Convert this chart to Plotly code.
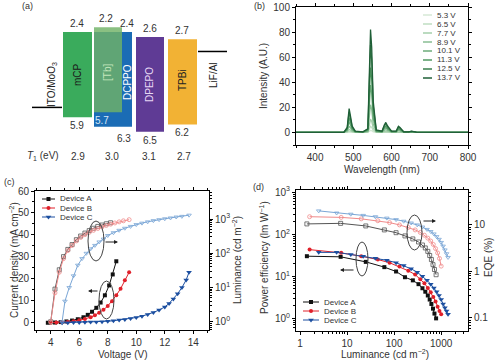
import plotly.graph_objects as go

W, H = 499, 361
def fx(p): return p / W
def fy(p): return 1 - p / H

FONT = "Arial, Liberation Sans, sans-serif"
TXT = "#333333"

# ---------------- (a) energy levels ----------------
materials = ["mCP", "DCPPO", "[Tb]", "DPEPO", "TPBi"]
lumo = [2.4, 2.4, 2.2, 2.6, 2.7]
homo = [5.9, 6.3, 5.7, 6.5, 6.2]
triplet = ["2.9", "3.0", "3.1", "2.7"]
electrodes = ["ITO/MoO<sub>3</sub>", "LiF/Al"]
electrode_level = [5.5, 3.2]

# ---------------- (b) EL spectra ----------------
voltages = ["5.3 V", "6.5 V", "7.7 V", "8.9 V", "10.1 V", "11.3 V", "12.5 V", "13.7 V"]
wavelength = [350, 475, 484, 489, 492, 497, 505, 525, 538, 542, 545, 548, 552, 560,
              575, 581, 585, 590, 600, 612, 618, 622, 632, 645, 652, 665, 800]
I_53 = [0, 0, 0.1, 0.4, 0.3, 0.1, 0, 0, 0.1, 0.9, 1.6, 1.4, 0.5, 0, 0, 0.1, 0.2, 0.1, 0, 0, 0.1, 0.1, 0, 0, 0, 0, 0]
I_65 = [0, 0, 0.2, 1.1, 0.8, 0.3, 0.1, 0, 0.2, 2.7, 4.9, 4.1, 1.5, 0.1, 0.1, 0.4, 0.5, 0.3, 0.1, 0.1, 0.3, 0.2, 0, 0, 0.1, 0, 0]
I_77 = [0, 0, 0.5, 2.5, 1.8, 0.7, 0.1, 0.1, 0.4, 5.9, 10.7, 8.8, 3.3, 0.3, 0.1, 0.8, 1.0, 0.7, 0.1, 0.1, 0.7, 0.5, 0.1, 0.1, 0.1, 0, 0]
I_89 = [0, 0, 1.1, 5.1, 3.8, 1.4, 0.3, 0.1, 0.8, 12.2, 22.1, 18.4, 6.8, 0.5, 0.3, 1.6, 2.2, 1.4, 0.3, 0.3, 1.4, 1.1, 0.1, 0.1, 0.3, 0.1, 0]
I_101 = [0, 0, 1.8, 8.7, 6.4, 2.3, 0.5, 0.2, 1.4, 20.7, 37.7, 31.3, 11.5, 0.9, 0.5, 2.8, 3.7, 2.3, 0.5, 0.5, 2.3, 1.8, 0.2, 0.2, 0.5, 0.1, 0]
I_113 = [0, 0, 2.5, 12.0, 8.8, 3.2, 0.6, 0.3, 1.9, 28.4, 51.7, 42.8, 15.8, 1.3, 0.6, 3.8, 5.0, 3.2, 0.6, 0.6, 3.2, 2.5, 0.3, 0.3, 0.6, 0.1, 0]
I_125 = [0, 0, 3.4, 16.2, 11.9, 4.3, 0.9, 0.4, 2.6, 38.3, 69.7, 57.8, 21.3, 1.7, 0.9, 5.1, 6.8, 4.3, 0.9, 0.9, 4.3, 3.4, 0.4, 0.4, 0.9, 0.2, 0]
I_137 = [0, 0, 4.0, 19.0, 14.0, 5.0, 1.0, 0.5, 3.0, 45.0, 82.0, 68.0, 25.0, 2.0, 1.0, 6.0, 8.0, 5.0, 1.0, 1.0, 5.0, 4.0, 0.5, 0.5, 1.0, 0.2, 0]
spectra = [I_53, I_65, I_77, I_89, I_101, I_113, I_125, I_137]

# ---------------- (c) J-V-L ----------------
devices = ["Device A", "Device B", "Device C"]
V_A = [3.8, 4.3, 4.7, 5.1, 5.5, 5.9, 6.3, 6.6, 6.9, 7.2, 7.5, 7.8, 8.1, 8.35, 8.6]
J_A = [0, 0.1, 0.3, 0.6, 1.0, 1.6, 2.5, 3.6, 5.0, 6.8, 9.2, 12.5, 17.0, 22.0, 28.0]
V_B = [4.0, 4.4, 4.8, 5.2, 5.6, 6.0, 6.4, 6.8, 7.1, 7.4, 7.7, 8.0, 8.3, 8.6, 8.9, 9.2, 9.5]
J_B = [0, 0.1, 0.2, 0.4, 0.7, 1.1, 1.7, 2.5, 3.4, 4.5, 5.9, 7.6, 9.8, 12.5, 15.5, 19.3, 23.0]
V_C = [4.8, 5.2, 5.6, 6.0, 6.4, 6.8, 7.2, 7.6, 8.0, 8.4, 8.8, 9.2, 9.6, 10.0, 10.4, 10.8,
       11.2, 11.6, 12.0, 12.3, 12.6, 12.9, 13.2, 13.5, 13.7]
J_C = [0, 0.05, 0.1, 0.15, 0.2, 0.3, 0.4, 0.5, 0.7, 0.9, 1.2, 1.5, 1.9, 2.4, 3.0, 3.8,
       4.7, 5.8, 7.2, 8.8, 10.8, 13.2, 16.0, 19.5, 23.0]
VL_A = [4.0, 4.3, 4.6, 4.9, 5.2, 5.5, 5.8, 6.1, 6.4, 6.7, 7.0, 7.3, 7.6, 7.9, 8.2]
L_A = [1.0, 9, 33, 80, 130, 180, 250, 320, 390, 460, 540, 610, 670, 730, 780]
VL_B = [4.0, 4.3, 4.6, 4.9, 5.2, 5.5, 5.8, 6.1, 6.4, 6.7, 7.0, 7.3, 7.6, 7.9, 8.2, 8.5, 8.8, 9.1, 9.5]
L_B = [1.0, 7, 28, 70, 120, 170, 230, 290, 350, 410, 470, 530, 590, 650, 710, 770, 830, 890, 960]
VL_C = [4.8, 5.0, 5.3, 5.6, 5.9, 6.2, 6.5, 6.8, 7.1, 7.4, 7.7, 8.0, 8.4, 8.8, 9.2, 9.6,
        10.0, 10.4, 10.8, 11.2, 11.6, 12.0, 12.4, 12.8, 13.2, 13.7]
L_C = [1.0, 4, 10, 22, 45, 70, 100, 135, 170, 215, 260, 330, 400, 470, 540, 610,
       690, 760, 830, 900, 960, 1020, 1080, 1150, 1200, 1300]

# ---------------- (d) PE / EQE vs luminance ----------------
Ld_A = [1.4, 7.3, 25, 62, 110, 170, 250, 330, 400, 460, 520, 570, 620, 670, 720, 780]
PE_A = [30, 29, 22, 16.5, 13, 9.5, 8, 6.5, 5.2, 4.3, 3.5, 2.8, 2.2, 1.7, 1.3, 1.0]
EQE_A = [10.5, 10.8, 9.5, 7.8, 6.8, 5.8, 5.0, 4.3, 3.7, 3.2, 2.7, 2.2, 1.8, 1.4, 1.1, 0.85]
Ld_B = [1.6, 7.5, 20, 45, 80, 130, 200, 280, 360, 440, 520, 600, 680, 760, 840, 920, 1000]
PE_B = [43, 36, 30, 25, 21, 17, 13.5, 11, 8.5, 6.8, 5.3, 4.2, 3.2, 2.5, 1.9, 1.5, 1.25]
EQE_B = [15, 14.5, 13.5, 12.3, 11.2, 10, 8.8, 7.8, 6.9, 6.0, 5.2, 4.5, 3.8, 3.1, 2.5, 1.9, 1.3]
Ld_C = [2.5, 6, 12, 22, 40, 70, 110, 160, 230, 310, 400, 500, 600, 700, 800, 900, 1000,
        1100, 1200, 1300, 1400]
PE_C = [37, 37, 33, 30, 27, 24, 21, 18, 15, 12.5, 10, 8, 6.5, 5.3, 4.3, 3.5, 2.8, 2.2, 1.8, 1.5, 1.25]
EQE_C = [20, 18, 17, 16, 15, 14, 13, 12, 11, 10, 9, 8, 7.2, 6.4, 5.6, 4.9, 4.2, 3.5, 2.9, 2.4, 2.0]

# ---------------- styles ----------------
box_x = [77.5, 113, 108, 150, 182.5]
box_w = [29, 38, 28, 28, 29]
box_col = ["#3aab5c", "#1b6cb5", "rgba(112,178,102,0.82)", "#5f3b95", "#f2b234"]
green_shades = ["#d6e9d6", "#bfdec2", "#a5cfab", "#89be93", "#6cab7a", "#509862", "#387e4b", "#1f5f37"]
dev_col = ["#111111", "#e0202a", "#1c4fa0"]
lum_col = ["#555555", "#f08a8a", "#7aa6d6"]
dev_sym = ["square", "circle", "triangle-down"]

fig = go.Figure()

# (a) boxes
for i, m in enumerate(materials):
    fig.add_trace(go.Bar(x=[box_x[i]], y=[homo[i] - lumo[i]], base=[lumo[i]], width=[box_w[i]],
                         marker=dict(color=box_col[i], line=dict(width=0)),
                         xaxis="x", yaxis="y", showlegend=False, hoverinfo="skip"))
elec_x = [[32, 62], [198, 227]]
for i, e in enumerate(electrodes):
    fig.add_trace(go.Scatter(x=elec_x[i], y=[electrode_level[i]] * 2, mode="lines",
                             line=dict(color="black", width=1.5), xaxis="x", yaxis="y",
                             showlegend=False, hoverinfo="skip"))

# (b) spectra
for i, v in enumerate(voltages):
    fig.add_trace(go.Scatter(x=wavelength, y=spectra[i], mode="lines",
                             line=dict(color=green_shades[i], width=1.3),
                             xaxis="x2", yaxis="y2", showlegend=False))

# (c)
JV = [(V_A, J_A), (V_B, J_B), (V_C, J_C)]
LV = [(VL_A, L_A), (VL_B, L_B), (VL_C, L_C)]
for i in range(3):
    fig.add_trace(go.Scatter(x=LV[i][0], y=LV[i][1], mode="lines+markers",
                             line=dict(color=lum_col[i], width=1),
                             marker=dict(symbol=dev_sym[i] + "-open", size=4, color=lum_col[i], line=dict(width=0.8)),
                             xaxis="x3", yaxis="y4", showlegend=False))
for i in range(3):
    fig.add_trace(go.Scatter(x=JV[i][0], y=JV[i][1], mode="lines+markers",
                             line=dict(color=dev_col[i], width=1),
                             marker=dict(symbol=dev_sym[i], size=4 if i < 2 else 5, color=dev_col[i]),
                             xaxis="x3", yaxis="y3", showlegend=False))

# (d)
LD = [Ld_A, Ld_B, Ld_C]
PE = [PE_A, PE_B, PE_C]
EQE = [EQE_A, EQE_B, EQE_C]
for i in range(3):
    fig.add_trace(go.Scatter(x=LD[i], y=EQE[i], mode="lines+markers",
                             line=dict(color=lum_col[i], width=1),
                             marker=dict(symbol=dev_sym[i] + "-open", size=4, color=lum_col[i], line=dict(width=0.8)),
                             xaxis="x4", yaxis="y6", showlegend=False))
for i in range(3):
    fig.add_trace(go.Scatter(x=LD[i], y=PE[i], mode="lines+markers",
                             line=dict(color=dev_col[i], width=1),
                             marker=dict(symbol=dev_sym[i], size=4 if i < 2 else 5, color=dev_col[i]),
                             xaxis="x4", yaxis="y5", showlegend=False))

# legend samples on a pixel overlay
leg_c_y = [199, 208, 217]
leg_d_y = [302, 311, 320]
for i in range(3):
    for (x0, x1, yy) in [(42, 55, leg_c_y[i]), (303, 319, leg_d_y[i])]:
        fig.add_trace(go.Scatter(x=[x0, (x0 + x1) / 2, x1], y=[yy] * 3, mode="lines",
                                 line=dict(color=dev_col[i], width=1), xaxis="x5", yaxis="y7",
                                 showlegend=False, hoverinfo="skip"))
        fig.add_trace(go.Scatter(x=[(x0 + x1) / 2], y=[yy], mode="markers",
                                 marker=dict(symbol=dev_sym[i], size=4 if i < 2 else 5, color=dev_col[i]),
                                 xaxis="x5", yaxis="y7", showlegend=False, hoverinfo="skip"))
leg_b_y = [15, 24, 33, 42, 51, 60, 69, 78]
for i in range(8):
    fig.add_trace(go.Scatter(x=[423, 432], y=[leg_b_y[i]] * 2, mode="lines",
                             line=dict(color=green_shades[i], width=1.5), xaxis="x5", yaxis="y7",
                             showlegend=False, hoverinfo="skip"))

# ---------------- axes ----------------
tf = dict(size=10, color=TXT, family=FONT)
def ax(**kw):
    d = dict(showline=True, linecolor="black", linewidth=1, ticks="outside", ticklen=3,
             tickwidth=1, tickcolor="black", showgrid=False, zeroline=False, tickfont=tf,
             automargin=False)
    d.update(kw)
    return d

def logminor(lo, hi):
    vals = []
    for e in range(lo, hi):
        for k in range(2, 10):
            vals.append(k * 10 ** e)
    return dict(ticks="outside", ticklen=2, tickcolor="black", tickvals=vals, showgrid=False)

sup = lambda n: "10<sup>%d</sup>" % n

layout = dict(
    width=W, height=H, margin=dict(l=0, r=0, t=0, b=0, pad=0), autosize=False,
    paper_bgcolor="white", plot_bgcolor="rgba(0,0,0,0)", showlegend=False,
    font=dict(family=FONT, color=TXT, size=10), barmode="overlay",
    xaxis=dict(domain=[0, fx(250)], range=[0, 250], visible=False, anchor="y", automargin=False),
    yaxis=dict(domain=[fy(175), 1], range=[8.28, 1.083], visible=False, anchor="x", automargin=False),
    xaxis2=ax(domain=[fx(296), fx(468)], range=[350, 800], tickvals=[400, 500, 600, 700, 800],
              anchor="y2", mirror="ticks", minor=dict(ticks="outside", ticklen=2, dtick=50, tick0=350, tickcolor="black")),
    yaxis2=ax(domain=[fy(145), fy(7)], range=[-10, 100], tickvals=[0, 20, 40, 60, 80, 100],
              anchor="x2", mirror="ticks", minor=dict(ticks="outside", ticklen=2, dtick=10, tick0=0, tickcolor="black")),
    xaxis3=ax(domain=[fx(35), fx(209)], range=[2.9, 15.1], tickvals=[4, 6, 8, 10, 12, 14],
              anchor="y3", mirror="ticks", minor=dict(ticks="outside", ticklen=2, dtick=1, tick0=0, tickcolor="black")),
    yaxis3=ax(domain=[fy(330), fy(191)], range=[-3.3, 60], tickvals=[0, 10, 20, 30, 40, 50, 60],
              anchor="x3", minor=dict(ticks="outside", ticklen=2, dtick=5, tick0=0, tickcolor="black")),
    yaxis4=ax(type="log", overlaying="y3", side="right", anchor="x3", range=[-0.24, 3.82],
              tickvals=[1, 10, 100, 1000], ticktext=[sup(0), sup(1), sup(2), sup(3)], minor=logminor(-1, 4)),
    xaxis4=ax(type="log", domain=[fx(296), fx(468)], range=[-0.085, 3.57], tickvals=[1, 10, 100, 1000],
              ticktext=["1", "10", "100", "1000"], anchor="y5", mirror="ticks", minor=logminor(0, 4)),
    yaxis5=ax(type="log", domain=[fy(331), fy(190)], range=[-0.3, 3.05], tickvals=[1, 10, 100, 1000],
              ticktext=[sup(0), sup(1), sup(2), sup(3)], anchor="x4", minor=logminor(-1, 4)),
    yaxis6=ax(type="log", overlaying="y5", side="right", anchor="x4", range=[-1.28, 1.75],
              tickvals=[0.1, 1, 10], ticktext=["0.1", "1", "10"], minor=logminor(-2, 2)),
    xaxis5=dict(domain=[0, 1], range=[0, W], visible=False, anchor="y7", fixedrange=True, automargin=False),
    yaxis7=dict(domain=[0, 1], range=[H, 0], visible=False, anchor="x5", fixedrange=True, automargin=False),
)
fig.update_layout(**layout)

ann = []
def A(x, y, t, size=10, color=TXT, angle=0, xa="center", ya="middle", **kw):
    d = dict(x=fx(x), y=fy(y), xref="paper", yref="paper", text=t, showarrow=False,
             font=dict(size=size, color=color, family=FONT), textangle=angle,
             xanchor=xa, yanchor=ya)
    d.update(kw)
    ann.append(d)

# panel letters
A(27, 6, "(a)", 9); A(259, 6, "(b)", 9); A(9, 182, "(c)", 9); A(258, 187, "(d)", 9)

# (a) energy labels
lumo_lbl_x = [77, 127, 106, 150, 182]
homo_lbl_x = [77, 124, 102, 150, 182]
for i in range(5):
    ann.append(dict(x=lumo_lbl_x[i], y=lumo[i], xref="x", yref="y", text="%.1f" % lumo[i],
                    showarrow=False, yanchor="bottom", yshift=1, font=dict(size=10, color=TXT, family=FONT)))
for i in range(5):
    col = "#d8e8f8" if materials[i] == "[Tb]" else TXT
    ann.append(dict(x=homo_lbl_x[i], y=homo[i], xref="x", yref="y", text="%.1f" % homo[i],
                    showarrow=False, yanchor="top", yshift=-1 if materials[i] != "DCPPO" else -4,
                    font=dict(size=10, color=col, family=FONT)))
# rotated names
A(77, 75, "mCP", 10, "#1a1a1a", -90)
A(107, 73, "[Tb]", 10, "#c4e6bc", -90)
A(127, 82, "DCPPO", 10, "white", -90)
A(150, 85, "DPEPO", 10, "#e6d8f4", -90)
A(182, 80, "TPBi", 10, "#222222", -90)
A(52, 85, electrodes[0], 10, "#222222", -90)
A(213, 75, electrodes[1], 10, "#222222", -90)
A(43, 156, "<i>T</i><sub>1</sub> (eV)", 10)
for x, t in zip([78, 112, 149, 184], triplet):
    A(x, 156, t, 10)

# (b) titles & legend
A(382, 169, "Wavelength (nm)", 10)
A(263, 76, "Intensity (A.U.)", 10, angle=-90)
for i in range(8):
    A(435, leg_b_y[i], voltages[i], 8, xa="left")

# (c)
A(122, 354, "Voltage (V)", 10)
A(14, 260, "Current density (mA cm<sup>−2</sup>)", 10, angle=-90)
A(237, 260, "Luminance (cd m<sup>−2</sup>)", 10, angle=-90)
for i in range(3):
    A(58, leg_c_y[i], devices[i], 8, xa="left")

# (d)
A(385, 354, "Luminance (cd m<sup>−2</sup>)", 10)
A(264, 258, "Power efficiency (lm W<sup>−1</sup>)", 10, angle=-90)
A(488, 258, "EQE (%)", 10, angle=-90)
for i in range(3):
    A(322, leg_d_y[i], devices[i], 8, xa="left")

# arrows
def arrow(x, y, dx):
    ann.append(dict(x=fx(x), y=fy(y), xref="paper", yref="paper", text="", showarrow=True,
                    ax=-dx, ay=0, arrowhead=2, arrowsize=0.8, arrowwidth=1, arrowcolor="#222"))
arrow(118, 242, 14)
arrow(88, 291, -11)
arrow(436, 221, 14)
arrow(340, 270, -15)
fig.update_layout(annotations=ann)

shapes = []
for (x0, x1, y0, y1) in [(88, 104, 221, 261), (99, 114, 281, 319), (407, 422, 215, 250), (356, 368, 242, 276)]:
    shapes.append(dict(type="circle", xref="paper", yref="paper", x0=fx(x0), x1=fx(x1),
                       y0=fy(y1), y1=fy(y0), line=dict(color="#444", width=1)))
fig.update_layout(shapes=shapes)

fig.write_html("out.html", config={"displayModeBar": False, "staticPlot": True},
               post_script="document.body.style.margin='0px';document.body.style.overflow='hidden';")
